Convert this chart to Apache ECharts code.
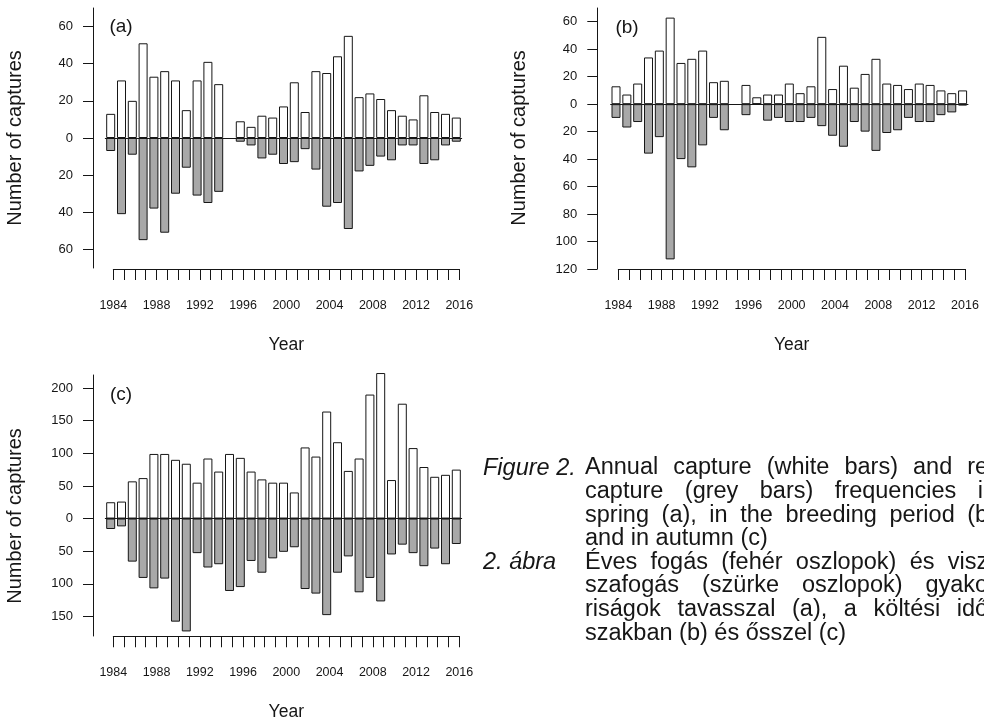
<!DOCTYPE html>
<html>
<head>
<meta charset="utf-8">
<script src="https://cdn.jsdelivr.net/npm/echarts@6/dist/echarts.min.js"></script>
<style>html,body{margin:0;padding:0;background:#fff}#c{width:984px;height:722px}</style>
</head>
<body>
<div id="c"></div>
<script>
// ---------- data ----------
const years = ['1984','1985','1986','1987','1988','1989','1990','1991','1992','1993','1994','1995','1996','1997','1998','1999','2000','2001','2002','2003','2004','2005','2006','2007','2008','2009','2010','2011','2012','2013','2014','2015','2016'];

// (a) spring
const springCapture   = [13,31,20,51,33,36,31,15,31,41,29,null,9,6,12,11,17,30,14,36,35,44,55,22,24,21,15,12,10,23,14,13,11];
const springRecapture = [7,41,9,55,38,51,30,16,31,35,29,null,2,4,11,9,14,13,6,17,37,35,49,18,15,10,12,4,4,14,12,4,2];
// (b) breeding period
const breedingCapture   = [13,7,15,34,39,63,30,33,39,16,17,null,14,5,7,7,15,8,13,49,11,28,12,22,33,15,14,11,15,14,10,8,10];
const breedingRecapture = [10,17,13,36,24,113,40,46,30,10,19,null,8,0,12,10,13,13,10,16,23,31,13,20,34,21,19,10,13,13,8,6,1];
// (c) autumn
const autumnCapture   = [25,26,57,62,99,99,90,84,55,92,72,99,93,72,60,55,55,40,109,95,164,117,73,92,190,223,59,176,108,79,64,67,75];
const autumnRecapture = [16,12,66,91,107,92,158,173,53,75,70,111,105,65,83,61,51,44,108,115,148,83,58,113,91,127,55,40,53,73,46,70,39];

// tick values (labels shown as absolute numbers)
const ticksA = [-60,-40,-20,0,20,40,60];
const ticksB = [-120,-100,-80,-60,-40,-20,0,20,40,60];
const ticksC = [-150,-100,-50,0,50,100,150,200];

const panelLabels = ['(a)','(b)','(c)'];
const yTitle = 'Number of captures';
const xTitle = 'Year';

const captionEnLabel = 'Figure 2.';
const captionEn = ['Annual capture (white bars) and re-', 'capture (grey bars) frequencies in', 'spring (a), in the breeding period (b)', 'and in autumn (c)'];
const captionHuLabel = '2. ábra';
const captionHu = ['Éves fogás (fehér oszlopok) és visz-', 'szafogás (szürke oszlopok) gyako-', 'riságok tavasszal (a), a költési idő-', 'szakban (b) és ősszel (c)'];

// ---------- chart ----------
const FONT = "'Liberation Sans', Arial, Helvetica, sans-serif";
const INK = '#161616';
const GREY = '#a8a8a8';

const panels = [
  {main:{left:105.3,top:8,width:356.4,height:260}, ticks:{left:113.3,top:268,width:346,height:1}, off:12.3, min:-70, max:70, yt:ticksA, cap:springCapture, rec:springRecapture, lab:[121,27], title:[15,138]},
  {main:{left:610.6,top:8,width:357.4,height:261}, ticks:{left:618.3,top:268,width:346.7,height:1}, off:13.3, min:-120, max:70, yt:ticksB, cap:breedingCapture, rec:breedingRecapture, lab:[627,28], title:[519,138]},
  {main:{left:105.3,top:375,width:356.4,height:261}, ticks:{left:113.3,top:636,width:346,height:1}, off:12.3, min:-180, max:220, yt:ticksC, cap:autumnCapture, rec:autumnRecapture, lab:[121,395], title:[15,516]}
];

const grid = [], xAxis = [], yAxis = [], series = [], graphic = [];
panels.forEach((p, i) => {
  const gm = 2*i, gt = 2*i+1;
  grid.push(Object.assign({containLabel:false}, p.main));
  grid.push(Object.assign({containLabel:false}, p.ticks));
  xAxis.push({
    type:'category', gridIndex:gm, data:years, boundaryGap:true,
    axisLine:{show:true, onZero:true, lineStyle:{color:INK, width:1}},
    axisTick:{show:false}, axisLabel:{show:false}, splitLine:{show:false}
  });
  xAxis.push({
    type:'category', gridIndex:gt, data:years, boundaryGap:false, position:'bottom',
    axisLine:{show:true, lineStyle:{color:INK, width:1}},
    axisTick:{show:true, length:11, interval:0, lineStyle:{color:INK, width:1}},
    axisLabel:{interval:3, margin:30, fontSize:12.5, color:INK, fontFamily:FONT},
    splitLine:{show:false},
    name:xTitle, nameLocation:'middle', nameGap:67,
    nameTextStyle:{fontSize:17.5, color:INK, fontFamily:FONT}
  });
  yAxis.push({
    type:'value', gridIndex:gm, min:p.min, max:p.max, position:'left', offset:p.off,
    axisLine:{show:true, onZero:false, lineStyle:{color:INK, width:1}},
    axisTick:{show:true, length:10, customValues:p.yt, lineStyle:{color:INK, width:1}},
    axisLabel:{customValues:p.yt, formatter:v => String(Math.abs(v)), margin:20, fontSize:13, color:INK, fontFamily:FONT},
    splitLine:{show:false}
  });
  yAxis.push({type:'value', gridIndex:gt, min:0, max:1, show:false});
  series.push({
    type:'bar', xAxisIndex:gm, yAxisIndex:gm, data:p.cap, barWidth:9, barGap:'-100%',
    itemStyle:{color:'#ffffff', borderColor:INK, borderWidth:1}, silent:true, clip:false, z:3
  });
  series.push({
    type:'bar', xAxisIndex:gm, yAxisIndex:gm, data:p.rec.map(v => v == null ? null : -v), barWidth:9, barGap:'-100%',
    itemStyle:{color:GREY, borderColor:INK, borderWidth:1}, silent:true, clip:false, z:3
  });
  graphic.push({type:'text', x:p.lab[0], y:p.lab[1], silent:true,
    style:{text:panelLabels[i], fill:INK, font:'19px ' + FONT, align:'center', verticalAlign:'middle'}});
  graphic.push({type:'text', x:p.title[0], y:p.title[1], rotation:Math.PI/2, silent:true,
    style:{text:yTitle, fill:INK, font:'20px ' + FONT, align:'center', verticalAlign:'middle'}});
});

// caption (justified block, as in the printed figure; its right edge runs past the picture)
const capLabelX = 483, capTextX = 585, capW = 411, capY0 = 468, capDY = 23.6, capSize = 23.5;
const capFont = capSize + 'px ' + FONT;
const measureCtx = document.createElement('canvas').getContext('2d');
measureCtx.font = capFont;
function addLine(text, y, justify) {
  if (!justify) {
    graphic.push({type:'text', x:capTextX, y:y, silent:true,
      style:{text:text, fill:INK, font:capFont, align:'left', verticalAlign:'middle'}});
    return;
  }
  const words = text.split(' ');
  const widths = words.map(w => measureCtx.measureText(w).width);
  const total = widths.reduce((a, b) => a + b, 0);
  const gap = (capW - total) / (words.length - 1);
  let x = capTextX;
  words.forEach((w, k) => {
    graphic.push({type:'text', x:x, y:y, silent:true,
      style:{text:w, fill:INK, font:capFont, align:'left', verticalAlign:'middle'}});
    x += widths[k] + gap;
  });
}
graphic.push({type:'text', x:capLabelX, y:capY0, silent:true,
  style:{text:captionEnLabel, fill:INK, font:'italic ' + capFont, align:'left', verticalAlign:'middle'}});
captionEn.forEach((t, k) => addLine(t, capY0 + k*capDY, k < captionEn.length - 1));
graphic.push({type:'text', x:capLabelX, y:capY0 + 4*capDY, silent:true,
  style:{text:captionHuLabel, fill:INK, font:'italic ' + capFont, align:'left', verticalAlign:'middle'}});
captionHu.forEach((t, k) => addLine(t, capY0 + (4+k)*capDY, k < captionHu.length - 1));

const chart = echarts.init(document.getElementById('c'), null, {renderer:'canvas'});
chart.setOption({
  animation:false,
  backgroundColor:'#ffffff',
  grid, xAxis, yAxis, series, graphic
});
</script>
</body>
</html>
